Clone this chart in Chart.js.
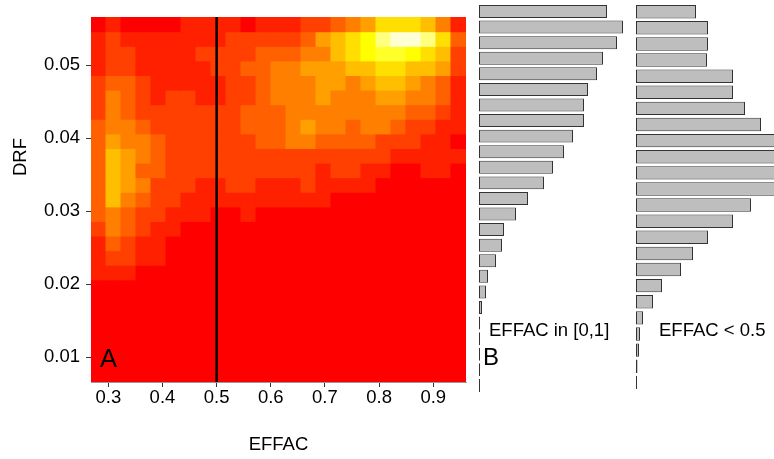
<!DOCTYPE html>
<html>
<head>
<meta charset="utf-8">
<script src="https://cdn.jsdelivr.net/npm/chart.js@4.4.1/dist/chart.umd.min.js"></script>
<style>
  html, body { margin: 0; padding: 0; background: #fff; }
  #wrap { position: relative; width: 774px; height: 459px; overflow: hidden; }
  #wrap canvas { position: absolute; left: 0; top: 0; }
</style>
</head>
<body>
<div id="wrap">
  <canvas id="heat" width="774" height="459"></canvas>
  <canvas id="histAll" width="774" height="459"></canvas>
  <canvas id="histLow" width="774" height="459"></canvas>
</div>
<script>
// EFFAC bin centres (columns of the image)
const effacMid = [0.2818, 0.3095, 0.3372, 0.3649, 0.3926, 0.4203, 0.4480, 0.4757, 0.5034,
  0.5311, 0.5588, 0.5865, 0.6142, 0.6419, 0.6696, 0.6973, 0.7250, 0.7527, 0.7804,
  0.8081, 0.8358, 0.8635, 0.8912, 0.9189, 0.9466]
// DRF bin edges, bottom to top
const drfEdges = [0.0066, 0.0086, 0.0106, 0.0126, 0.0146, 0.0166, 0.0186, 0.0206, 0.0226,
  0.0246, 0.0266, 0.0286, 0.0306, 0.0326, 0.0346, 0.0366, 0.0386, 0.0406, 0.0426,
  0.0446, 0.0466, 0.0486, 0.0506, 0.0526, 0.0546, 0.0566]
const effacTicks = [0.3, 0.4, 0.5, 0.6, 0.7, 0.8, 0.9]
const drfTicks = [0.01, 0.02, 0.03, 0.04, 0.05]
const cutoff = 0.5

// binned density levels (0..11), rows listed from the top DRF bin down
const levels = [
  [0,1,0,0,0,0,1,1,1,1,0,1,1,1,2,2,3,4,5,7,7,7,6,4,1],
  [1,2,1,1,1,1,1,1,1,2,2,2,2,2,3,5,6,7,8,10,11,11,10,7,3],
  [1,2,2,1,1,1,1,2,2,2,2,3,3,3,4,4,6,7,8,9,9,8,7,6,2],
  [1,2,2,1,1,1,1,1,2,2,3,3,4,4,5,5,5,6,6,7,7,6,6,5,2],
  [2,3,3,2,1,1,1,1,1,2,2,3,4,4,4,5,5,4,5,6,6,5,4,3,1],
  [2,4,3,2,1,2,2,1,1,2,2,3,4,4,4,5,4,4,4,5,5,4,4,3,1],
  [2,4,3,2,2,2,2,2,2,2,3,3,3,4,4,4,4,4,4,4,4,3,3,2,1],
  [3,4,4,3,2,2,2,2,2,2,3,3,3,4,5,4,4,3,4,4,3,2,2,1,1],
  [3,5,4,4,3,2,2,2,2,2,2,3,3,4,4,3,3,3,3,2,2,2,1,1,0],
  [3,6,5,4,3,2,2,2,2,2,2,2,2,2,2,2,2,2,2,2,1,1,1,1,1],
  [3,6,5,3,3,2,2,2,2,2,2,2,2,2,2,1,2,2,1,1,0,0,1,1,0],
  [3,6,5,4,2,2,2,1,1,2,2,1,1,1,2,1,1,1,1,0,0,0,0,0,0],
  [3,6,4,3,2,2,1,1,1,1,1,1,1,1,1,1,0,0,0,0,0,0,0,0,0],
  [3,4,3,2,2,1,1,1,0,0,1,0,0,0,0,0,0,0,0,0,0,0,0,0,0],
  [2,4,3,2,1,1,0,0,0,0,0,0,0,0,0,0,0,0,0,0,0,0,0,0,0],
  [1,3,2,1,1,0,0,0,0,0,0,0,0,0,0,0,0,0,0,0,0,0,0,0,0],
  [1,2,2,1,1,0,0,0,0,0,0,0,0,0,0,0,0,0,0,0,0,0,0,0,0],
  [1,1,1,0,0,0,0,0,0,0,0,0,0,0,0,0,0,0,0,0,0,0,0,0,0],
  [0,0,0,0,0,0,0,0,0,0,0,0,0,0,0,0,0,0,0,0,0,0,0,0,0],
  [0,0,0,0,0,0,0,0,0,0,0,0,0,0,0,0,0,0,0,0,0,0,0,0,0],
  [0,0,0,0,0,0,0,0,0,0,0,0,0,0,0,0,0,0,0,0,0,0,0,0,0],
  [0,0,0,0,0,0,0,0,0,0,0,0,0,0,0,0,0,0,0,0,0,0,0,0,0],
  [0,0,0,0,0,0,0,0,0,0,0,0,0,0,0,0,0,0,0,0,0,0,0,0,0],
  [0,0,0,0,0,0,0,0,0,0,0,0,0,0,0,0,0,0,0,0,0,0,0,0,0],
  [0,0,0,0,0,0,0,0,0,0,0,0,0,0,0,0,0,0,0,0,0,0,0,0,0]
]

// histogram counts, top bar first
const countsAll = [128, 144, 138, 124, 118, 109, 105, 105, 94, 85, 74, 65, 49, 37, 25, 23, 17, 9, 7, 3, 1, 0, 0, 0, 0]
const countsLow = [60, 72, 72, 71, 97, 97, 109, 125, 150, 156, 154, 148, 115, 97, 72, 57, 45, 26, 17, 7, 4, 3, 1.5, 0]

const FONT = '"Liberation Sans", Arial, Helvetica, sans-serif'
Chart.defaults.font.family = FONT
Chart.defaults.font.size = 18.5
Chart.defaults.color = '#000'

// heat.colors(12): red -> yellow hues, then fading yellows
const PALETTE = []
for (let k = 0; k <= 8; k++) PALETTE.push('rgb(255,' + Math.round(255 * k / 8) + ',0)')
;[5/6, 1/2, 1/6].forEach(function(s){ PALETTE.push('rgb(255,255,' + Math.round(255 * (1 - s)) + ')') })

// free text drawn on the canvas
const notes = {
  id: 'notes',
  afterDraw(chart, args, opts) {
    const ctx = chart.ctx
    opts.items.forEach(function(t){
      ctx.save()
      ctx.font = t.size + 'px ' + FONT
      ctx.fillStyle = '#000'
      ctx.textAlign = t.align || 'left'
      ctx.textBaseline = t.base || 'alphabetic'
      ctx.translate(t.x, t.y)
      if (t.rot) ctx.rotate(t.rot)
      ctx.fillText(t.text, 0, 0)
      ctx.restore()
    })
  }
}

const nRows = levels.length
const heatSets = levels.map(function(row, r){
  const lo = drfEdges[nRows - 1 - r], hi = drfEdges[nRows - r]
  return {
    type: 'bar',
    data: effacMid.map(function(x){ return {x: x, y: [lo, hi]} }),
    backgroundColor: row.map(function(z){ return PALETTE[z] }),
    borderWidth: 0,
    barPercentage: 1,
    categoryPercentage: 1,
    grouped: false,
    inflateAmount: 0.5,
    clip: 0
  }
})

const cutLine = {
  type: 'line',
  data: [{x: cutoff, y: drfEdges[0]}, {x: cutoff, y: drfEdges[nRows]}],
  borderColor: '#000',
  borderWidth: 2.5,
  pointRadius: 0
}

function fixedTicks(list) {
  return function(scale){ scale.ticks = list.map(function(v){ return {value: v} }) }
}

new Chart(document.getElementById('heat'), {
  type: 'bar',
  data: { datasets: [cutLine].concat(heatSets) },
  plugins: [notes],
  options: {
    responsive: false,
    animation: false,
    layout: { padding: { left: 0, top: 11, right: 308, bottom: 0 } },
    plugins: {
      legend: { display: false },
      tooltip: { enabled: false },
      notes: { items: [
        { text: 'DRF', x: 21, y: 157, rot: -Math.PI / 2, align: 'center', base: 'middle', size: 18.5 },
        { text: 'A', x: 100, y: 367, size: 25.5 },
        { text: 'B', x: 483, y: 365, size: 24 },
        { text: 'EFFAC in [0,1]', x: 489, y: 336, size: 18.5 },
        { text: 'EFFAC < 0.5', x: 659, y: 336, size: 18.5 }
      ] }
    },
    scales: {
      x: {
        type: 'linear',
        min: 0.268, max: 0.9605,
        offset: false,
        afterBuildTicks: fixedTicks(effacTicks),
        afterFit: function(scale){ scale.height = 77 },
        ticks: { autoSkip: false, maxRotation: 0, padding: 0 },
        grid: { drawOnChartArea: false, drawTicks: true, tickLength: 5, tickColor: '#333', offset: false },
        border: { display: true, color: '#999', width: 1 },
        title: { display: true, text: 'EFFAC', padding: { top: 0, bottom: 3 } }
      },
      y: {
        type: 'linear',
        min: drfEdges[0], max: drfEdges[nRows],
        beginAtZero: false,
        afterBuildTicks: fixedTicks(drfTicks),
        afterFit: function(scale){ scale.width = 91 },
        ticks: { padding: 6 },
        grid: { drawOnChartArea: false, drawTicks: true, tickLength: 5, tickColor: '#333' },
        border: { display: false }
      }
    }
  }
})

function histChart(id, counts, xMax, pad) {
  return new Chart(document.getElementById(id), {
    type: 'bar',
    data: {
      labels: counts.map(function(_, i){ return i }),
      datasets: [{
        data: counts,
        backgroundColor: '#bebebe',
        borderColor: '#333',
        borderWidth: 1,
        borderSkipped: false,
        barPercentage: 1 / 1.2,
        categoryPercentage: 1,
        minBarLength: 1,
        clip: 0
      }]
    },
    options: {
      indexAxis: 'y',
      responsive: false,
      animation: false,
      layout: { padding: pad },
      plugins: { legend: { display: false }, tooltip: { enabled: false } },
      scales: {
        x: { type: 'linear', min: 0, max: xMax, display: false },
        y: { type: 'category', display: false, offset: true }
      }
    }
  })
}

histChart('histAll', countsAll, 150, { left: 479, top: 3.7, right: 145, bottom: 65.8 })
histChart('histLow', countsLow, 138, { left: 636, top: 3.66, right: 0, bottom: 68.6 })
</script>
</body>
</html>
